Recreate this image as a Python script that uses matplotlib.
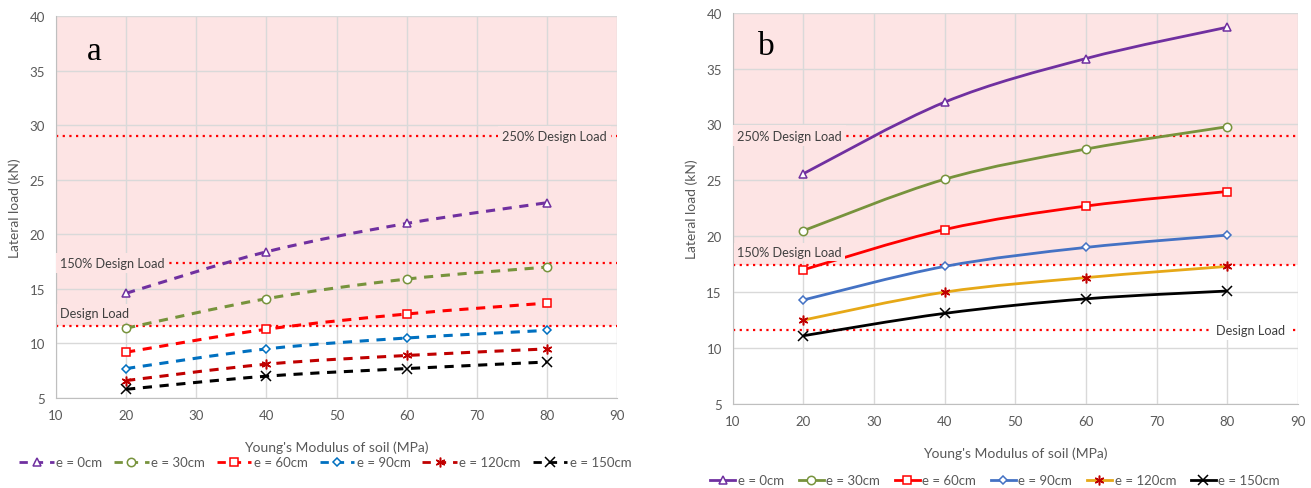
import numpy as np
import matplotlib
matplotlib.use("Agg")
import matplotlib.pyplot as plt
from matplotlib.path import Path
from matplotlib.patches import PathPatch
from matplotlib.lines import Line2D

plt.rcParams['font.family'] = ['Lato', 'DejaVu Sans']

# Data
modulus = [20, 40, 60, 80]
series_labels = ['e = 0cm', 'e = 30cm', 'e = 60cm', 'e = 90cm', 'e = 120cm', 'e = 150cm']

load_a = [
    [14.6, 18.4, 21.0, 22.9],
    [11.4, 14.1, 15.9, 17.0],
    [9.2, 11.3, 12.7, 13.7],
    [7.7, 9.5, 10.5, 11.2],
    [6.6, 8.1, 8.9, 9.5],
    [5.8, 7.0, 7.7, 8.3],
]
load_b = [
    [25.6, 32.0, 35.9, 38.7],
    [20.5, 25.1, 27.8, 29.8],
    [17.0, 20.6, 22.7, 24.0],
    [14.3, 17.3, 19.0, 20.1],
    [12.5, 15.0, 16.3, 17.3],
    [11.1, 13.1, 14.4, 15.1],
]
design_load = 11.6
design_levels = [design_load, 1.5 * design_load, 2.5 * design_load]
design_names = ['Design Load', '150% Design Load', '250% Design Load']

# Styles
markers = ['^', 'o', 's', 'D', (6, 2, 0), 'x']
msizes = [6, 6, 6, 4.5, 7, 7]
line_a = ['#7030A0', '#77933C', '#FF0000', '#0070C0', '#C00000', '#000000']
mark_a = ['#7030A0', '#77933C', '#FF0000', '#0070C0', '#C00000', '#000000']
line_b = ['#7030A0', '#77933C', '#FF0000', '#4472C4', '#E6A817', '#000000']
mark_b = ['#7030A0', '#77933C', '#FF0000', '#4472C4', '#C00000', '#000000']
pink = '#FDE4E4'
grid_c = '#D9D9D9'
txt_c = '#595959'


def smooth_path(x, y):
    # Excel-style smoothed curve as cubic Bezier segments
    pts = list(zip(x, y))
    verts = [pts[0]]
    codes = [Path.MOVETO]
    n = len(pts)
    for i in range(n - 1):
        p0 = np.array(pts[max(i - 1, 0)])
        p1 = np.array(pts[i])
        p2 = np.array(pts[i + 1])
        p3 = np.array(pts[min(i + 2, n - 1)])
        c1 = p1 + (p2 - p0) / 6.0
        c2 = p2 - (p3 - p1) / 6.0
        verts += [tuple(c1), tuple(c2), tuple(p2)]
        codes += [Path.CURVE4] * 3
    return Path(verts, codes)


def style_axes(ax):
    ax.set_xlim(10, 90)
    ax.set_ylim(5, 40)
    ax.set_xticks(range(10, 91, 10))
    ax.set_yticks(range(5, 41, 5))
    ax.grid(True, color=grid_c, linewidth=1, zorder=0)
    ax.set_axisbelow(True)
    for s in ['top', 'right']:
        ax.spines[s].set_visible(False)
    for s in ['left', 'bottom']:
        ax.spines[s].set_color('#BFBFBF')
    ax.tick_params(length=0, labelsize=9.5, colors=txt_c, pad=8)
    ax.set_xlabel("Young's Modulus of soil (MPa)", fontsize=10, color=txt_c, labelpad=14)
    ax.set_ylabel('Lateral load (kN)', fontsize=10, color=txt_c, labelpad=6)


def draw_panel(ax, data, lcolors, mcolors, ls, shade_from):
    style_axes(ax)
    ax.axhspan(shade_from, 40, color=pink, zorder=0.5, lw=0)
    for lvl in design_levels:
        ax.axhline(lvl, color='#FF0000', linestyle=(0, (1, 2)), linewidth=1.6, zorder=1.5)
    handles = []
    for k, vals in enumerate(data):
        patch = PathPatch(smooth_path(modulus, vals), fill=False, edgecolor=lcolors[k],
                          linewidth=2 if ls == '-' else 2.2, linestyle=ls, zorder=3)
        ax.add_patch(patch)
        face = 'white' if markers[k] not in ['x', (6, 2, 0)] else 'none'
        ax.plot(modulus, vals, linestyle='none', marker=markers[k], markersize=msizes[k],
                markerfacecolor=face, markeredgecolor=mcolors[k], markeredgewidth=1.1, zorder=4)
        handles.append(Line2D([], [], color=lcolors[k], linestyle=ls, linewidth=2,
                              marker=markers[k], markersize=msizes[k], markerfacecolor=face,
                              markeredgecolor=mcolors[k], markeredgewidth=1.1))
    return handles


fig = plt.figure(figsize=(13.11, 4.89), dpi=100)
ax_a = fig.add_axes([0.0427, 0.184, 0.428, 0.781])
ax_b = fig.add_axes([0.559, 0.172, 0.431, 0.800])

h_a = draw_panel(ax_a, load_a, line_a, mark_a, (0, (3, 2.5)), design_load)
h_b = draw_panel(ax_b, load_b, line_b, mark_b, '-', design_levels[1])

lbl = dict(fontsize=9.2, color='#404040', zorder=5)
# panel a labels
ax_a.text(88.5, design_levels[2], design_names[2], ha='right', va='center',
          bbox=dict(facecolor=pink, edgecolor='none', pad=3), **lbl)
ax_a.text(10.6, design_levels[1], design_names[1], ha='left', va='center',
          bbox=dict(facecolor=pink, edgecolor='none', pad=3), **lbl)
ax_a.text(10.6, design_levels[0] + 1.2, design_names[0], ha='left', va='center',
          bbox=dict(facecolor=pink, edgecolor='none', pad=2), **lbl)
# panel b labels
ax_b.text(10.6, design_levels[2], design_names[2], ha='left', va='center',
          bbox=dict(facecolor=pink, edgecolor='none', pad=3), **lbl)
ax_b.text(10.6, design_levels[1] + 1.2, design_names[1], ha='left', va='center',
          bbox=dict(facecolor=pink, edgecolor='none', pad=2), **lbl)
ax_b.text(88.2, design_levels[0], design_names[0], ha='right', va='center',
          bbox=dict(facecolor='white', edgecolor='none', pad=3), **lbl)

ax_a.text(15.5, 36.8, 'a', fontsize=24, family='Liberation Serif', ha='center', va='center', zorder=6)
ax_b.text(14.8, 37.0, 'b', fontsize=24, family='Liberation Serif', ha='center', va='center', zorder=6)

leg_kw = dict(ncol=6, frameon=False, fontsize=9.5, handlelength=2.6, handletextpad=0.2,
              columnspacing=0.9, numpoints=1, labelcolor=txt_c)
ax_a.legend(h_a, series_labels, loc='center', bbox_to_anchor=(0.48, -0.168), **leg_kw)
ax_b.legend(h_b, series_labels, loc='center', bbox_to_anchor=(0.464, -0.195),
            **dict(leg_kw, handlelength=1.9, columnspacing=1.1))

fig.savefig('out.png', dpi=100)
